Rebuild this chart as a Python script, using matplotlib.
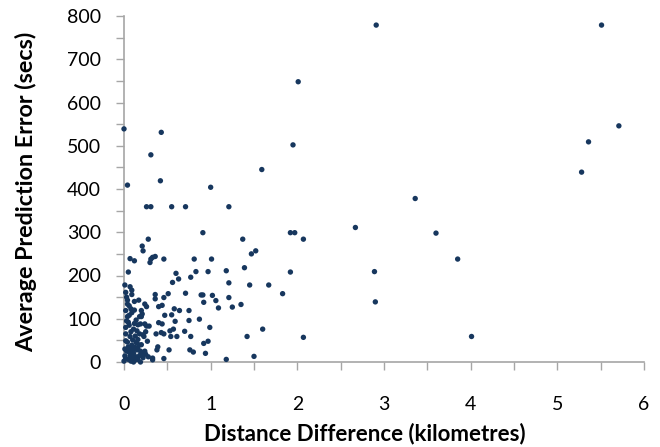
import matplotlib
matplotlib.use("Agg")
import matplotlib.pyplot as plt
from matplotlib.ticker import MultipleLocator

# Distance difference (km) and average prediction error (secs)
dist_km = [
    0.00, 0.43, 0.31, 1.59, 1.95, 2.01, 2.91, 5.51,
    0.04, 0.42, 1.00, 0.26, 0.31, 0.55, 0.71, 1.21, 0.91, 0.28, 0.21, 0.22,
    0.07, 0.12, 0.31, 0.33, 0.36, 0.30, 0.46, 0.81, 1.01, 0.05, 0.60, 0.56,
    0.63, 0.77, 0.83, 0.97, 1.18, 1.21, 0.01, 0.07, 0.02, 0.09, 0.09, 0.36,
    0.36, 0.46, 0.51, 0.71, 0.89, 0.91, 1.02, 1.06, 1.21, 0.92, 0.04, 0.04,
    0.12, 0.17, 0.08, 0.24, 0.26, 0.40, 0.44, 0.58, 0.64, 0.75, 1.09, 0.02,
    0.09, 0.06, 0.20, 0.21, 0.20, 0.47, 0.55, 0.59, 0.75, 0.87, 0.02, 0.05,
    0.12, 0.16, 0.19, 0.26, 0.29, 0.40, 0.44, 0.11, 0.15, 0.99, 0.70, 0.37,
    0.43, 0.46, 0.53, 0.57, 0.61, 0.54, 0.77, 0.18, 0.22, 0.23, 0.07, 0.02,
    0.04, 0.10, 0.09, 0.12, 0.07, 0.06, 0.11, 0.15, 0.19, 0.21, 0.24, 0.25,
    0.39, 0.38, 0.52, 0.76, 0.80, 0.92, 0.97, 0.94, 0.33, 0.33, 0.46, 0.19,
    0.01, 0.02, 0.00, 0.05, 0.08, 0.11, 0.14, 0.16, 1.18,
    1.92, 1.97, 1.37, 2.07, 1.47, 1.52, 1.39, 1.92, 1.45, 1.67, 1.83, 1.25,
    1.35, 1.60, 1.42, 2.07, 1.50,
    5.71, 5.36, 5.28, 3.36, 2.67, 3.60, 3.85, 2.89, 2.90, 4.01,
    0.03, 0.06, 0.08, 0.13, 0.14, 0.17, 0.05, 0.03, 0.09, 0.13, 0.18, 0.22,
    0.07, 0.10, 0.14, 0.18, 0.25, 0.02, 0.12, 0.16, 0.20, 0.27, 0.06, 0.03,
    0.01, 0.04, 0.24, 0.12, 0.16, 0.28,
]
error_secs = [
    539, 531, 479, 445, 502, 648, 779, 779,
    409, 419, 404, 359, 359, 359, 359, 359, 299, 284, 268, 257,
    239, 234, 238, 242, 244, 230, 238, 238, 238, 208, 205, 184,
    192, 196, 209, 209, 211, 183, 178, 174, 161, 166, 156, 156,
    146, 149, 158, 159, 155, 155, 154, 142, 149, 138, 143, 134,
    140, 143, 123, 134, 128, 128, 131, 123, 119, 119, 125, 119,
    114, 108, 119, 111, 105, 108, 109, 94, 96, 99, 80, 92,
    89, 86, 88, 83, 83, 91, 88, 76, 72, 80, 71, 65,
    68, 65, 72, 76, 59, 59, 59, 65, 63, 59, 59, 49,
    46, 51, 39, 34, 31, 23, 20, 28, 25, 20, 25, 18,
    35, 28, 28, 28, 23, 43, 48, 20, 5, 9, 8, 0,
    14, 8, 2, 6, 2, 0, 12, 6, 6,
    299, 299, 284, 284, 250, 257, 218, 208, 178, 178, 158, 127,
    133, 76, 59, 57, 13,
    546, 509, 439, 378, 311, 298, 238, 209, 139, 59,
    95, 85, 70, 60, 45, 40, 35, 25, 10, 5, 15, 10,
    15, 28, 97, 105, 70, 65, 120, 52, 40, 48, 130, 150,
    30, 105, 88, 8, 33, 12,
]

x_min, x_max = 0, 6
y_min, y_max = 0, 800

plt.rcParams['font.family'] = ['Lato', 'DejaVu Sans']

fig = plt.figure(figsize=(6.6, 4.47), dpi=100)
ax = fig.add_axes([124 / 660, 1 - 362 / 447, (644 - 124) / 660, (362 - 16) / 447])

ax.scatter(dist_km, error_secs, s=15, color='#17375E', edgecolors='none',
           zorder=3, clip_on=False)

ax.set_xlim(x_min, x_max)
ax.set_ylim(y_min, y_max)
ax.xaxis.set_major_locator(MultipleLocator(1))
ax.xaxis.set_minor_locator(MultipleLocator(0.5))
ax.yaxis.set_major_locator(MultipleLocator(100))
ax.yaxis.set_minor_locator(MultipleLocator(50))

axis_grey = '#A6A6A6'
for side in ('top', 'right'):
    ax.spines[side].set_visible(False)
for side in ('left', 'bottom'):
    ax.spines[side].set_color(axis_grey)
    ax.spines[side].set_linewidth(1.2)

ax.tick_params(which='both', direction='out', length=5.5, width=1.0,
               color=axis_grey, labelsize=14, labelcolor='black')
ax.tick_params(axis='x', which='major', pad=19)
ax.tick_params(axis='y', which='major', pad=11)

ax.set_xlabel('Distance Difference (kilometres)', fontsize=16,
              fontweight='bold')
ax.set_ylabel('Average Prediction Error (secs)', fontsize=16.8,
              fontweight='bold')
ax.xaxis.set_label_coords(0.463, -0.175)
ax.yaxis.set_label_coords(-0.168, 0.493)

fig.savefig('out.png', dpi=100)
